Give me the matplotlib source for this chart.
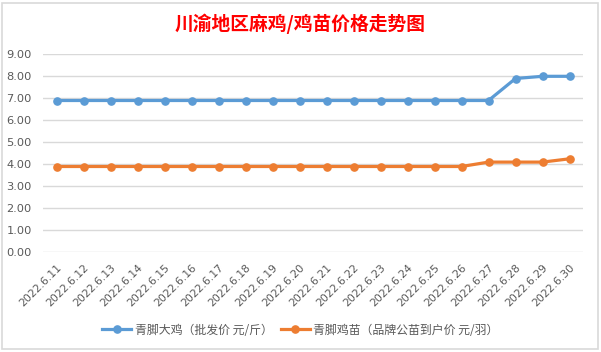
import matplotlib
matplotlib.use("Agg")
import matplotlib.pyplot as plt
from matplotlib.patches import Rectangle
from matplotlib.lines import Line2D

plt.rcParams['font.family'] = ['Noto Sans CJK SC', 'DejaVu Sans']

dates = ["2022.6.11", "2022.6.12", "2022.6.13", "2022.6.14", "2022.6.15",
         "2022.6.16", "2022.6.17", "2022.6.18", "2022.6.19", "2022.6.20",
         "2022.6.21", "2022.6.22", "2022.6.23", "2022.6.24", "2022.6.25",
         "2022.6.26", "2022.6.27", "2022.6.28", "2022.6.29", "2022.6.30"]
broiler = [6.9, 6.9, 6.9, 6.9, 6.9, 6.9, 6.9, 6.9, 6.9, 6.9,
           6.9, 6.9, 6.9, 6.9, 6.9, 6.9, 6.9, 7.9, 8.0, 8.0]
chick = [3.9, 3.9, 3.9, 3.9, 3.9, 3.9, 3.9, 3.9, 3.9, 3.9,
         3.9, 3.9, 3.9, 3.9, 3.9, 3.9, 4.1, 4.1, 4.1, 4.25]
yticks = [0, 1, 2, 3, 4, 5, 6, 7, 8, 9]
title = "川渝地区麻鸡/鸡苗价格走势图"
label1 = "青脚大鸡（批发价 元/斤）"
label2 = "青脚鸡苗（品牌公苗到户价 元/羽）"

W, H = 601, 352
fig = plt.figure(figsize=(W/100, H/100), dpi=100)
fig.patch.set_facecolor("white")
# chart border
fig.add_artist(Rectangle((2/W, 3/H), 596/W, 346/H, transform=fig.transFigure,
                         fill=False, edgecolor="#D9D9D9", linewidth=1.2))

x0, x1 = 43, 583
y_top, y_bot = 54.3, 252.3
ax = fig.add_axes([x0/W, 1 - y_bot/H, (x1-x0)/W, (y_bot-y_top)/H])
x = list(range(len(dates)))
blue = "#5B9BD5"
orange = "#ED7D31"
ax.plot(x, broiler, color=blue, lw=2.3, marker="o", ms=5.2, zorder=3)
ax.plot(x, chick, color=orange, lw=2.3, marker="o", ms=5.2, zorder=3)
ax.set_xlim(-0.5, len(dates) - 0.5)
ax.set_ylim(0, 9)
ax.set_yticks(yticks)
ax.set_yticklabels([f"{v:.2f}" for v in yticks], fontsize=8.2, color="#595959",
                   family=['DejaVu Sans'])
ax.set_xticks(x)
ax.set_xticklabels(dates, rotation=45, ha="right", va="top", fontsize=7.8,
                   color="#595959", rotation_mode="anchor", family=['DejaVu Sans'])
ax.tick_params(axis="both", length=0)
ax.tick_params(axis="y", pad=8)
ax.tick_params(axis="x", pad=7)
ax.grid(axis="y", color="#D9D9D9", lw=1)
for s in ax.spines.values():
    s.set_visible(False)
ax.set_axisbelow(True)

fig.text(0.5, 1 - 24/H, title, ha="center", va="center", color="red",
         fontsize=13.5, fontweight="bold")

h1 = Line2D([], [], color=blue, lw=2.3, marker="o", ms=5.2)
h2 = Line2D([], [], color=orange, lw=2.3, marker="o", ms=5.2)
fig.legend([h1, h2], [label1, label2], loc="center", bbox_to_anchor=(0.5, 1 - 330/H),
           ncol=2, frameon=False, fontsize=8.6, labelcolor="#595959",
           handlelength=2.4, handletextpad=0.3, columnspacing=0.7)

fig.savefig("out.png", dpi=100)
